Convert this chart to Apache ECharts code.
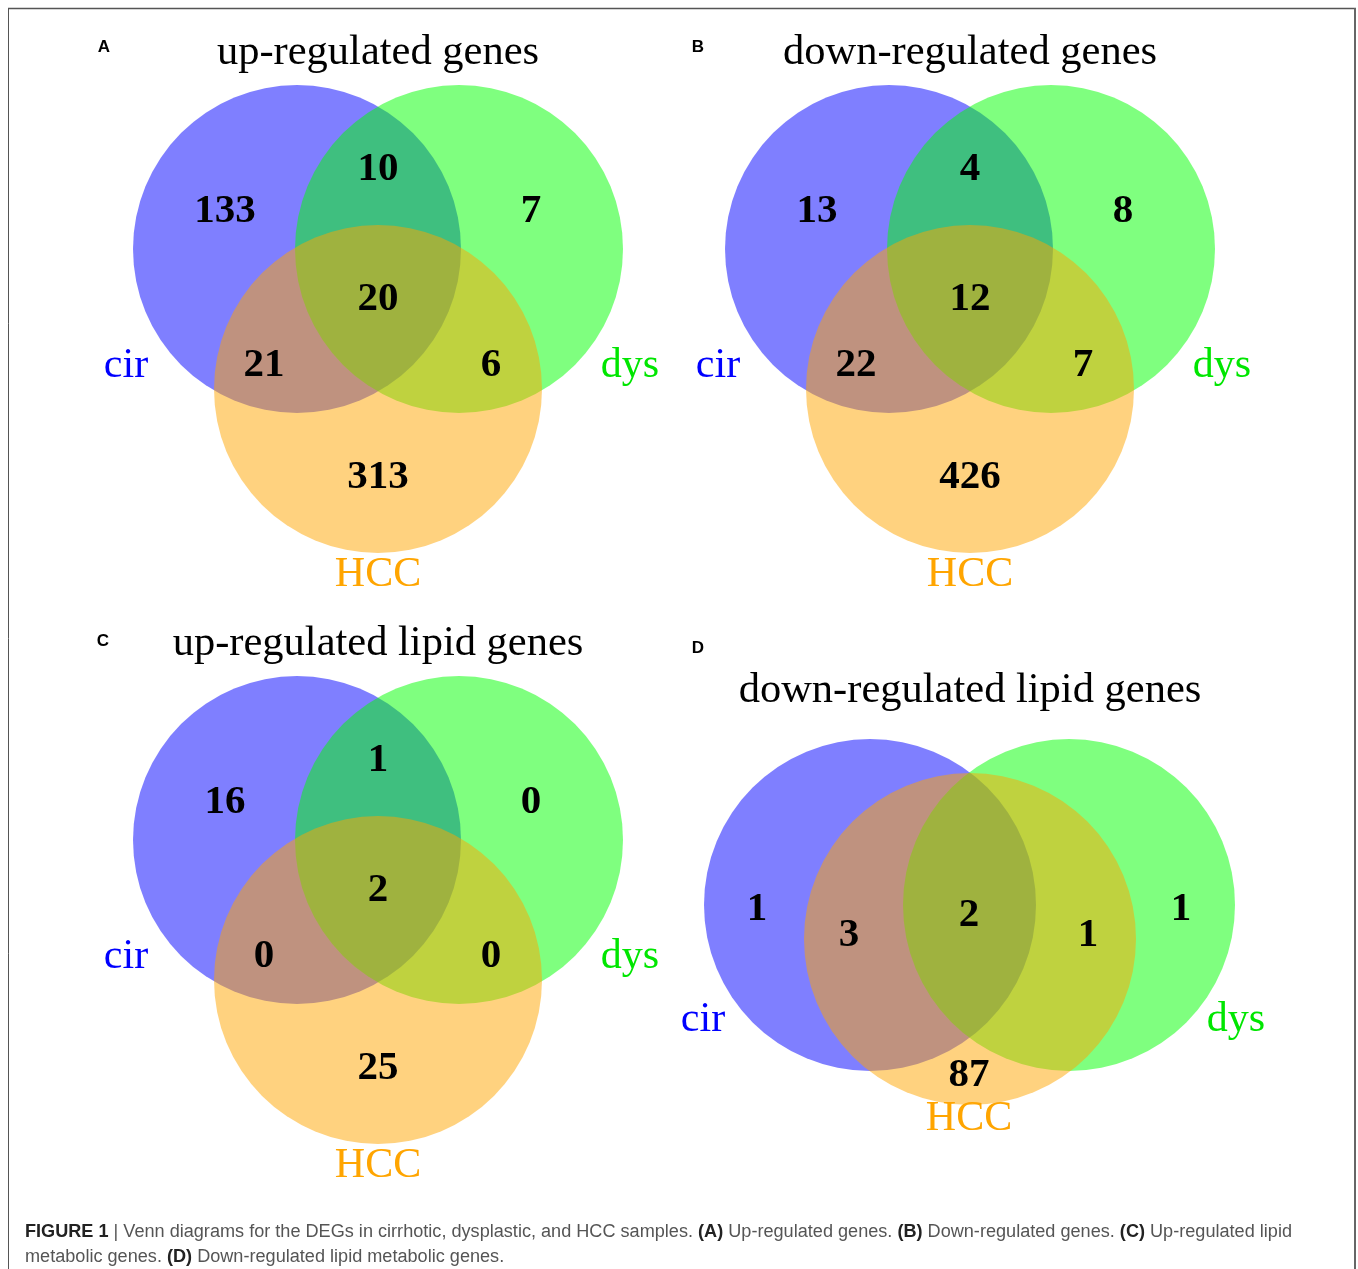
<!DOCTYPE html>
<html>
<head>
<meta charset="utf-8">
<title>Venn diagrams of DEGs</title>
<script src="https://cdn.jsdelivr.net/npm/echarts@6/dist/echarts.min.js"></script>
<style>
  html, body { margin: 0; padding: 0; background: #fff; }
  #chart { width: 1358px; height: 1269px; }
</style>
</head>
<body>
<div id="chart"></div>
<script>
// ---- data ----
const setNames = ['cir', 'dys', 'HCC'];
const panelLetters = ['A', 'B', 'C', 'D'];
const panelTitles = [
  'up-regulated genes',
  'down-regulated genes',
  'up-regulated lipid genes',
  'down-regulated lipid genes'
];
// region order: cir only, cir∩dys, dys only, cir∩dys∩HCC, cir∩HCC, dys∩HCC, HCC only
const upGenes = [133, 10, 7, 20, 21, 6, 313];
const downGenes = [13, 4, 8, 12, 22, 7, 426];
const upLipidGenes = [16, 1, 0, 2, 0, 0, 25];
const downLipidGenes = [1, null, 1, 2, 3, 1, 87];
const panelCounts = [upGenes, downGenes, upLipidGenes, downLipidGenes];

// ---- layout (local units of each panel grid) ----
const standardLayout = {
  circles: [[-81, -71, 164], [81, -71, 164], [0, 69, 164]],
  regions: [[-153, -112], [0, -154], [153, -112], [0, -24], [-114, 42], [113, 42], [0, 154]],
  labels: [[-252, 43], [252, 43], [0, 252]]
};
const lipidDownLayout = {
  circles: [[-100, -6, 166], [99, -6, 166], [0, 28, 166]],
  regions: [[-213, -5], [0, -60], [211, -5], [-1, 1], [-121, 21], [118, 21], [-1, 161]],
  labels: [[-267, 106], [266, 106], [-1, 205]]
};
const panelLayouts = [standardLayout, standardLayout, standardLayout, lipidDownLayout];
const panelGrids = [
  { left: 78, top: 20 }, { left: 670, top: 20 },
  { left: 78, top: 611 }, { left: 670, top: 611 }
];
const titlePos = [[378, 53], [970, 53], [378, 644], [970, 691]];
const letterPos = [[104, 47], [698, 47], [103, 641], [698, 648]];

// ---- styles ----
const circleFills = ['rgba(0,0,255,0.5)', 'rgba(0,255,0,0.5)', 'rgba(255,165,0,0.5)'];
const labelColors = ['#0000ff', '#00e600', '#ffa500'];
const serif = '"Liberation Serif", "Times New Roman", serif';
const sans = '"Liberation Sans", Arial, sans-serif';
const textShift = 3; // canvas 'middle' sits a little above the glyph centre

// text mark placed at a data point of the panel grid
const textItem = (api, text, font, fill) => {
  const p = api.coord([api.value(0), api.value(1)]);
  return {
    type: 'text', x: p[0], y: p[1] + textShift,
    style: { text: text, font: font, fill: fill, align: 'center', verticalAlign: 'middle' }
  };
};

const grid = [], xAxis = [], yAxis = [], series = [];
panelCounts.forEach((counts, i) => {
  const layout = panelLayouts[i];
  grid.push({ left: panelGrids[i].left, top: panelGrids[i].top, width: 600, height: 600 });
  xAxis.push({ type: 'value', gridIndex: i, min: -300, max: 300, show: false });
  yAxis.push({ type: 'value', gridIndex: i, min: -300, max: 300, inverse: true, show: false });

  // the three sets as translucent circles
  series.push({
    type: 'custom',
    xAxisIndex: i, yAxisIndex: i,
    silent: true, clip: false,
    data: layout.circles.map((c, k) => [c[0], c[1], c[2], k]),
    renderItem: (params, api) => {
      const p = api.coord([api.value(0), api.value(1)]);
      const r = api.size([api.value(2), 0])[0];
      return {
        type: 'circle',
        shape: { cx: p[0], cy: p[1], r: r },
        style: { fill: circleFills[api.value(3)] }
      };
    }
  });

  // region counts
  series.push({
    type: 'custom',
    xAxisIndex: i, yAxisIndex: i,
    silent: true, clip: false, z: 5,
    data: counts.map((v, k) => v === null ? null : [layout.regions[k][0], layout.regions[k][1], v])
      .filter(d => d !== null),
    renderItem: (params, api) => textItem(api, String(api.value(2)), 'bold 41px ' + serif, '#000')
  });

  // set names
  series.push({
    type: 'custom',
    xAxisIndex: i, yAxisIndex: i,
    silent: true, clip: false, z: 5,
    data: setNames.map((name, k) => [layout.labels[k][0], layout.labels[k][1], k]),
    renderItem: (params, api) => {
      const k = api.value(2);
      return textItem(api, setNames[k], '42px ' + serif, labelColors[k]);
    }
  });
});

// ---- titles, panel letters, frame and caption ----
const graphic = [];
panelTitles.forEach((t, i) => {
  graphic.push({
    type: 'text', x: titlePos[i][0], y: titlePos[i][1], silent: true,
    style: {
      text: t, fill: '#000', font: '42.5px ' + serif,
      align: 'center', verticalAlign: 'middle',
      textAlign: 'center', textVerticalAlign: 'middle'
    }
  });
  graphic.push({
    type: 'text', x: letterPos[i][0], y: letterPos[i][1], silent: true,
    style: {
      text: panelLetters[i], fill: '#000', font: 'bold 17px ' + sans,
      align: 'center', verticalAlign: 'middle',
      textAlign: 'center', textVerticalAlign: 'middle'
    }
  });
});

// frame
graphic.push({ type: 'line', silent: true, shape: { x1: 8, y1: 8.5, x2: 1356, y2: 8.5 }, style: { stroke: '#555', lineWidth: 1.5 } });
graphic.push({ type: 'line', silent: true, shape: { x1: 8.5, y1: 8, x2: 8.5, y2: 1269 }, style: { stroke: '#555', lineWidth: 1 } });
graphic.push({ type: 'line', silent: true, shape: { x1: 1355, y1: 8, x2: 1355, y2: 1269 }, style: { stroke: '#666', lineWidth: 2 } });

// caption
const captionLine1 = [
  ['b', 'FIGURE 1'], ['n', ' | Venn diagrams for the DEGs in cirrhotic, dysplastic, and HCC samples. '],
  ['b', '(A)'], ['n', ' Up-regulated genes. '], ['b', '(B)'], ['n', ' Down-regulated genes. '],
  ['b', '(C)'], ['n', ' Up-regulated lipid']
];
const captionLine2 = [
  ['n', 'metabolic genes. '], ['b', '(D)'], ['n', ' Down-regulated lipid metabolic genes.']
];
const capSize = 18;
const capFonts = { b: 'bold ' + capSize + 'px ' + sans, n: capSize + 'px ' + sans };
const ctx = document.createElement('canvas').getContext('2d');
const measure = parts => parts.reduce((w, p) => { ctx.font = capFonts[p[0]]; return w + ctx.measureText(p[1]).width; }, 0);
const capScale = 1267 / measure(captionLine1);
const toRich = parts => parts.map(p => '{' + p[0] + '|' + p[1] + '}').join('');
const capRich = {
  b: { fontFamily: sans, fontWeight: 'bold', fontSize: capSize, fill: '#222', color: '#222' },
  n: { fontFamily: sans, fontSize: capSize, fill: '#555', color: '#555' }
};
[[captionLine1, 1232], [captionLine2, 1257]].forEach(([parts, y]) => {
  graphic.push({
    type: 'text', x: 25, y: y, scaleX: capScale, silent: true,
    style: {
      text: toRich(parts), rich: capRich,
      align: 'left', verticalAlign: 'middle',
      textAlign: 'left', textVerticalAlign: 'middle'
    }
  });
});

const chart = echarts.init(document.getElementById('chart'), null, { renderer: 'canvas' });
chart.setOption({
  animation: false,
  backgroundColor: '#fff',
  grid, xAxis, yAxis, series, graphic
});
</script>
</body>
</html>
